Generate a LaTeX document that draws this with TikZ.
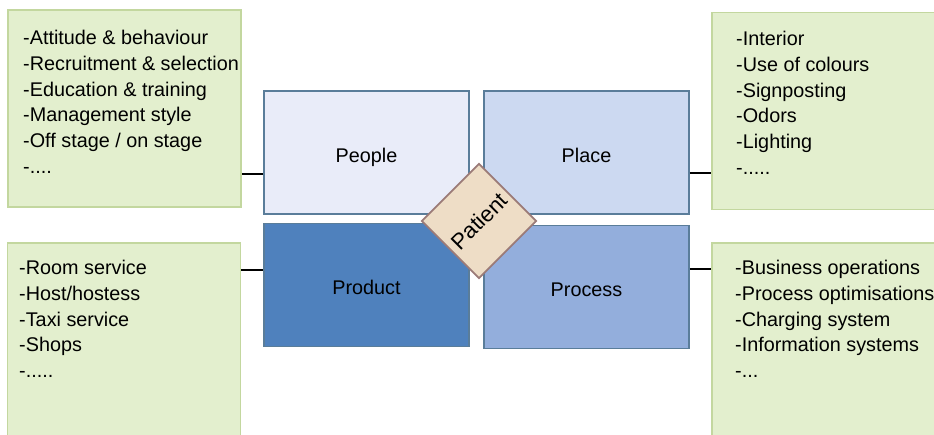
\documentclass[tikz,border=0pt]{standalone}
\usepackage{fontspec}
\setmainfont{Liberation Sans}
\usetikzlibrary{positioning}
\definecolor{ListFill}{HTML}{E3EFCE}
\definecolor{ListDraw}{HTML}{C3D79F}
\definecolor{BoxDraw}{HTML}{5A7D9A}
\newcommand{\ItemFont}{\fontsize{16.9}{21.9}\selectfont}

\begin{document}
\begin{tikzpicture}[x=0.03cm,y=-0.03cm,
        listbox/.style={draw=ListDraw,fill=ListFill,line width=1.2pt,minimum width=6.99cm,minimum height=5.9cm},
        listtext/.style={anchor=north west,inner sep=0pt,align=left,font=\ItemFont},
        pbox/.style={draw=BoxDraw,line width=1.5pt,minimum width=6.15cm,minimum height=3.69cm,font=\ItemFont,text height=17pt,text depth=0pt},
        link/.style={line width=1.3pt}]
                \useasboundingbox (0,0) rectangle (934,434);
                \node[listbox] (peoplelist) at (124.5,108.5) {};
                \node[listbox] (placelist) at (828.5,111) {};
                \node[listbox] (productlist) at (124,341.5) {};
                \node[listbox] (processlist) at (828.5,341.5) {};
                \node[listtext] (peopletext) at (23,30.4) {-Attitude \& behaviour\\-Recruitment \& selection\\-Education \& training\\-Management style\\-Off stage / on stage\\-....};
                \node[listtext] (placetext) at (736,31.4) {-Interior\\-Use of colours\\-Signposting\\-Odors\\-Lighting\\-.....};
                \node[listtext] (producttext) at (19,260.4) {-Room service\\-Host/hostess\\-Taxi service\\-Shops\\-.....};
                \node[listtext] (processtext) at (735,260.4) {-Business operations\\-Process optimisations\\-Charging system\\-Information systems\\-...};
                \node[pbox,fill={rgb,255:red,233;green,236;blue,249}] (people) at (366.5,152.5) {People};
                \node[pbox,fill={rgb,255:red,204;green,217;blue,241}] (place) at (586.5,152.5) {Place};
                \node[pbox,fill={rgb,255:red,79;green,129;blue,189}] (product) at (366.5,285) {Product};
                \node[pbox,fill={rgb,255:red,147;green,174;blue,220}] (process) at (586.5,287) {Process};
                \node[draw={rgb,255:red,155;green,123;blue,120},fill={rgb,255:red,238;green,221;blue,198},line width=1.5pt,
                        rotate=45,minimum width=2.42cm,minimum height=2.42cm,font=\fontsize{19}{22}\selectfont] (patient) at (479,221) {Patient};
                \draw[link] (people.west) ++(0,21.5) coordinate (peoplein) -- (peoplein -| peoplelist.east);
                \draw[link] (place.east) ++(0,20.5) coordinate (placein) -- (placein -| placelist.west);
                \draw[link] (product.west) ++(0,-15) coordinate (productin) -- (productin -| productlist.east);
                \draw[link] (process.east) ++(0,-18) coordinate (processin) -- (processin -| processlist.west);
        \end{tikzpicture}
\end{document}
